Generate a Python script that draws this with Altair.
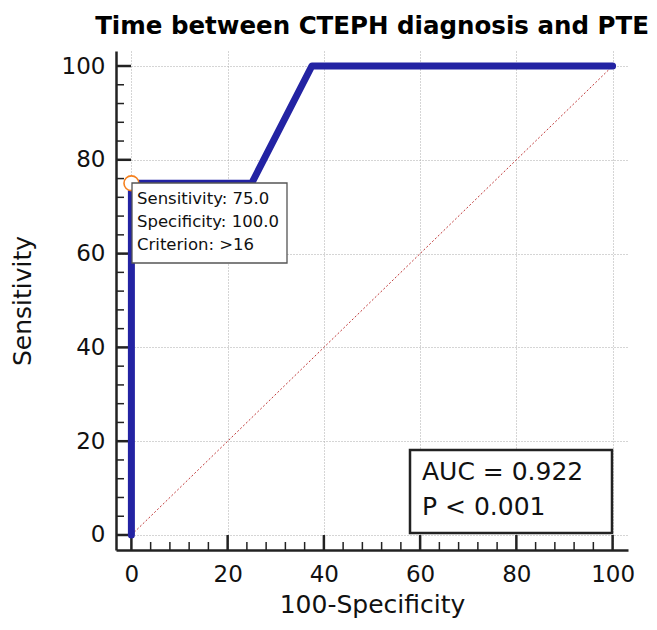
import altair as alt
import pandas as pd

FONT = "DejaVu Sans"
BLUE = "#2323a3"

# ROC curve (100-Specificity vs Sensitivity)
fpr = [0, 0, 25, 37.5, 100]
tpr = [0, 75, 75, 100, 100]
order = [0, 1, 2, 3, 4]

# reference diagonal
diag_x = [0, 100]
diag_y = [0, 100]

# optimal criterion point
cut_fpr = [0]
cut_tpr = [75]

major_ticks = [0, 20, 40, 60, 80, 100]
minor_ticks = [4, 8, 12, 16, 24, 28, 32, 36, 44, 48, 52, 56,
               64, 68, 72, 76, 84, 88, 92, 96]

note_lines = ["Sensitivity: 75.0", "Specificity: 100.0", "Criterion: >16"]
auc_lines = ["AUC = 0.922", "P < 0.001"]

W, H = 512, 499

xs = alt.Scale(domain=[-3.2, 103.2], nice=False, zero=False)
ys = alt.Scale(domain=[-3.2, 103.2], nice=False, zero=False)

common_axis = dict(
    values=major_ticks, grid=True, gridColor="#aaaaaa", gridDash=[1, 2],
    gridWidth=1, ticks=False, tickSize=0, domain=True, domainColor="#222222",
    domainWidth=2.5, labelFont=FONT, labelColor="#111111", labelFontSize=23,
    titleFont=FONT, titleFontSize=25, titleFontWeight="normal",
    titleColor="#111111", format="d", labelFlush=False, labelOverlap=False,
)
xaxis = alt.Axis(title="100-Specificity", labelPadding=31,
                 labelBaseline="alphabetic", titleX=256, titleY=62,
                 titleBaseline="alphabetic", titleAlign="center",
                 **common_axis)
yaxis = alt.Axis(title="Sensitivity", labelPadding=11, labelBaseline="middle",
                 titleX=-86, titleY=249.5, titleAngle=-90,
                 titleBaseline="alphabetic", titleAlign="center",
                 **common_axis)

roc_df = pd.DataFrame({"fpr": fpr, "tpr": tpr, "i": order})
diag_df = pd.DataFrame({"fpr": diag_x, "tpr": diag_y})
cut_df = pd.DataFrame({"fpr": cut_fpr, "tpr": cut_tpr})
major_df = pd.DataFrame({"v": major_ticks})
minor_df = pd.DataFrame({"v": minor_ticks})
one = pd.DataFrame({"k": [0]})

diag = alt.Chart(diag_df).mark_line(
    color="#c03a3a", strokeWidth=1, strokeDash=[2, 2]
).encode(x=alt.X("fpr:Q", scale=xs, axis=xaxis),
         y=alt.Y("tpr:Q", scale=ys, axis=yaxis))

x_major = alt.Chart(major_df).mark_rule(color="#222222", strokeWidth=2.5).encode(
    x=alt.X("v:Q", scale=xs, axis=xaxis), y=alt.value(H), y2=alt.value(H - 15))
x_minor = alt.Chart(minor_df).mark_rule(color="#222222", strokeWidth=1.5).encode(
    x=alt.X("v:Q", scale=xs, axis=xaxis), y=alt.value(H), y2=alt.value(H - 8))
y_major = alt.Chart(major_df).mark_rule(color="#222222", strokeWidth=2.5).encode(
    y=alt.Y("v:Q", scale=ys, axis=yaxis), x=alt.value(0), x2=alt.value(15))
y_minor = alt.Chart(minor_df).mark_rule(color="#222222", strokeWidth=1.5).encode(
    y=alt.Y("v:Q", scale=ys, axis=yaxis), x=alt.value(0), x2=alt.value(8))

roc = alt.Chart(roc_df).mark_line(
    color=BLUE, strokeWidth=7, strokeCap="round", strokeJoin="round"
).encode(x=alt.X("fpr:Q", scale=xs, axis=xaxis),
         y=alt.Y("tpr:Q", scale=ys, axis=yaxis),
         order=alt.Order("i:Q"))

cut = alt.Chart(cut_df).mark_point(
    shape="circle", filled=False, fill="white", fillOpacity=1,
    stroke="#f5801e", strokeWidth=1.6, size=220, opacity=1
).encode(x=alt.X("fpr:Q", scale=xs, axis=xaxis),
         y=alt.Y("tpr:Q", scale=ys, axis=yaxis))

note_box = alt.Chart(one).mark_rect(
    fill="white", stroke="#555555", strokeWidth=1.3
).encode(x=alt.value(16), x2=alt.value(171), y=alt.value(132), y2=alt.value(212))
note_text = alt.Chart(one).mark_text(
    align="left", baseline="top", font=FONT, fontSize=16.5, lineHeight=22.8,
    color="#111111", lineBreak="\n"
).encode(x=alt.value(21), y=alt.value(140), text=alt.value("\n".join(note_lines)))

auc_box = alt.Chart(one).mark_rect(
    fill="white", stroke="#222222", strokeWidth=2.5
).encode(x=alt.value(294), x2=alt.value(496), y=alt.value(399), y2=alt.value(482))
auc_text = alt.Chart(one).mark_text(
    align="left", baseline="top", font=FONT, fontSize=25, lineHeight=35,
    color="#111111", lineBreak="\n"
).encode(x=alt.value(306), y=alt.value(409), text=alt.value("\n".join(auc_lines)))

chart = alt.layer(
    diag, x_minor, x_major, y_minor, y_major, roc, cut,
    note_box, note_text, auc_box, auc_text
).properties(
    width=W, height=H,
    title=alt.TitleParams(
        "Time between CTEPH diagnosis and PTE", font=FONT, fontSize=24.5,
        fontWeight="bold", color="#000000", anchor="middle", frame="group",
        baseline="alphabetic", offset=18, dy=25),
    autosize=alt.AutoSizeParams(type="none"),
    padding={"left": 108, "top": 43, "right": 21, "bottom": 69},
    background="white",
).configure_view(stroke=None)

chart.save("out.html", embed_options={"renderer": "svg", "actions": False})
